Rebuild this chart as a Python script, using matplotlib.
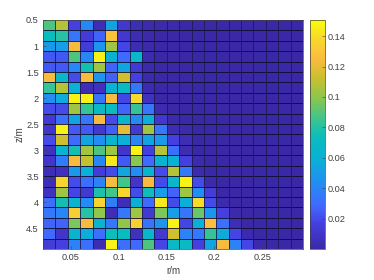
#!/usr/bin/env python3
"""Heat map of r/m against z/m with a parula-like colormap."""

import numpy as np
import matplotlib
matplotlib.use("Agg")
import matplotlib.pyplot as plt
from matplotlib.colors import LinearSegmentedColormap

R_START = 0.0208
R_STEP = 0.01295
Z_START = 0.5
Z_STEP = 0.2

R_TICKS = [0.05, 0.1, 0.15, 0.2, 0.25]
R_TICK_LABELS = ["0.05", "0.1", "0.15", "0.2", "0.25"]
Z_TICKS = [0.5, 1, 1.5, 2, 2.5, 3, 3.5, 4, 4.5]
Z_TICK_LABELS = ["0.5", "1", "1.5", "2", "2.5", "3", "3.5", "4", "4.5"]
CBAR_TICKS = [0.02, 0.04, 0.06, 0.08, 0.1, 0.12, 0.14]
CBAR_TICK_LABELS = ["0.02", "0.04", "0.06", "0.08", "0.1", "0.12", "0.14"]

# first 11 columns, one row per z cell
LEFT = [
    [.090, .110, .018, .042, .006, .055, .013, .006, .004, .003, .003],
    [.075, .082, .035, .016, .028, .130, .013, .005, .003, .002, .002],
    [.050, .052, .125, .016, .048, .105, .020, .005, .003, .002, .002],
    [.025, .025, .090, .042, .148, .062, .030, .068, .004, .002, .002],
    [.025, .026, .042, .078, .105, .028, .055, .014, .003, .002, .002],
    [.125, .068, .022, .125, .048, .028, .115, .018, .003, .002, .002],
    [.085, .110, .060, .006, .008, .063, .072, .035, .004, .002, .002],
    [.045, .058, .148, .148, .035, .125, .020, .140, .009, .002, .002],
    [.022, .022, .105, .085, .070, .075, .028, .085, .035, .004, .002],
    [.014, .032, .055, .036, .125, .022, .066, .044, .060, .013, .003],
    [.012, .148, .026, .026, .014, .027, .120, .014, .105, .036, .005],
    [.022, .115, .030, .055, .045, .065, .060, .042, .055, .050, .018],
    [.009, .065, .078, .105, .090, .105, .012, .148, .018, .110, .032],
    [.012, .038, .125, .112, .042, .145, .026, .100, .030, .065, .062],
    [.006, .008, .050, .060, .016, .022, .056, .046, .065, .022, .110],
    [.006, .138, .022, .032, .040, .125, .088, .012, .125, .022, .068],
    [.009, .105, .020, .014, .080, .088, .138, .022, .076, .052, .028],
    [.032, .078, .065, .045, .138, .038, .006, .062, .030, .145, .022],
    [.036, .042, .135, .082, .102, .006, .036, .105, .014, .098, .052],
    [.028, .028, .098, .125, .066, .036, .102, .135, .034, .048, .148],
    [.030, .012, .066, .058, .032, .076, .075, .009, .068, .014, .115],
    [.016, .018, .040, .032, .005, .148, .032, .030, .090, .020, .070],
]
# remaining 10 columns
RIGHT = [
    [.002, .002, .002, .002, .002, .002, .002, .002, .002, .002],
    [.002, .002, .002, .002, .002, .002, .002, .002, .002, .002],
    [.002, .002, .002, .002, .002, .002, .002, .002, .002, .002],
    [.002, .002, .002, .002, .002, .002, .002, .002, .002, .002],
    [.002, .002, .002, .002, .002, .002, .002, .002, .002, .002],
    [.002, .002, .002, .002, .002, .002, .002, .002, .002, .002],
    [.002, .002, .002, .002, .002, .002, .002, .002, .002, .002],
    [.002, .002, .002, .002, .002, .002, .002, .002, .002, .002],
    [.002, .002, .002, .002, .002, .002, .002, .002, .002, .002],
    [.002, .002, .002, .002, .002, .002, .002, .002, .002, .002],
    [.003, .002, .002, .002, .002, .002, .002, .002, .002, .002],
    [.006, .002, .002, .002, .002, .002, .002, .002, .002, .002],
    [.005, .002, .002, .002, .002, .002, .002, .002, .002, .002],
    [.018, .004, .002, .002, .002, .002, .002, .002, .002, .002],
    [.036, .004, .002, .002, .002, .002, .002, .002, .002, .002],
    [.148, .022, .003, .002, .002, .002, .002, .002, .002, .002],
    [.105, .045, .016, .002, .002, .002, .002, .002, .002, .002],
    [.060, .140, .022, .004, .002, .002, .002, .002, .002, .002],
    [.035, .095, .048, .018, .003, .002, .002, .002, .002, .002],
    [.020, .060, .128, .032, .006, .002, .002, .002, .002, .002],
    [.040, .036, .085, .058, .020, .004, .002, .002, .002, .002],
    [.072, .018, .055, .125, .040, .020, .003, .002, .002, .002],
]

PARULA = [
    (0.00, (0.2300, 0.1500, 0.6400)),
    (0.12, (0.2700, 0.2500, 0.8800)),
    (0.20, (0.2500, 0.4200, 1.0000)),
    (0.30, (0.1300, 0.5600, 0.9500)),
    (0.40, (0.0400, 0.6900, 0.8400)),
    (0.50, (0.0400, 0.7400, 0.7400)),
    (0.58, (0.2500, 0.7700, 0.5500)),
    (0.67, (0.5500, 0.7800, 0.3000)),
    (0.76, (0.8000, 0.7500, 0.1800)),
    (0.84, (0.9900, 0.7300, 0.2500)),
    (0.93, (0.9700, 0.8500, 0.1700)),
    (1.00, (0.9760, 0.9800, 0.0550)),
]

GREY = "#404040"

plt.rcParams["font.family"] = ["Liberation Sans", "DejaVu Sans"]
plt.rcParams["font.size"] = 6.6

values = np.hstack([np.array(LEFT), np.array(RIGHT)])
n_rows, n_cols = values.shape
r_edges = R_START + R_STEP * np.arange(n_cols + 1)
z_edges = Z_START + Z_STEP * np.arange(n_rows + 1)

cmap = LinearSegmentedColormap.from_list("parula", PARULA, N=256)

fig = plt.figure(figsize=(3.74, 2.80), dpi=100)
ax = fig.add_axes([43 / 374, 1 - 249 / 280, 260 / 374, 229 / 280])
mesh = ax.pcolormesh(r_edges, z_edges, values, cmap=cmap, vmin=0.0003, vmax=0.1505)
# horizontal grid lines read stronger than the vertical ones in the original
ax.hlines(z_edges[1:-1], r_edges[0], r_edges[-1], color="#0c0c28", linewidth=0.6)
ax.vlines(r_edges[1:-1], z_edges[0], z_edges[-1], color="#1c1a50", linewidth=0.6)
ax.set_xlim(r_edges[0], r_edges[-1])
ax.set_ylim(z_edges[-1], z_edges[0])
ax.set_xticks(R_TICKS, R_TICK_LABELS)
ax.set_yticks(Z_TICKS, Z_TICK_LABELS)
ax.tick_params(direction="in", length=2.0, width=0.4, color=GREY, labelcolor=GREY, pad=3)
ax.set_xlabel("r/m", color=GREY, fontsize=7, labelpad=3)
ax.set_ylabel("z/m", color=GREY, fontsize=7, labelpad=1)
for spine in ax.spines.values():
    spine.set_linewidth(0.5)
    spine.set_color(GREY)

cax = fig.add_axes([310 / 374, 1 - 249 / 280, 15 / 374, 229 / 280])
cbar = fig.colorbar(mesh, cax=cax)
cbar.solids.set_edgecolor("face")
cbar.set_ticks(CBAR_TICKS, labels=CBAR_TICK_LABELS)
cbar.ax.tick_params(direction="in", length=2.0, width=0.4, color=GREY, labelcolor=GREY, pad=2)
cbar.outline.set_linewidth(0.5)
cbar.outline.set_edgecolor(GREY)

fig.savefig("out.png", dpi=100)
